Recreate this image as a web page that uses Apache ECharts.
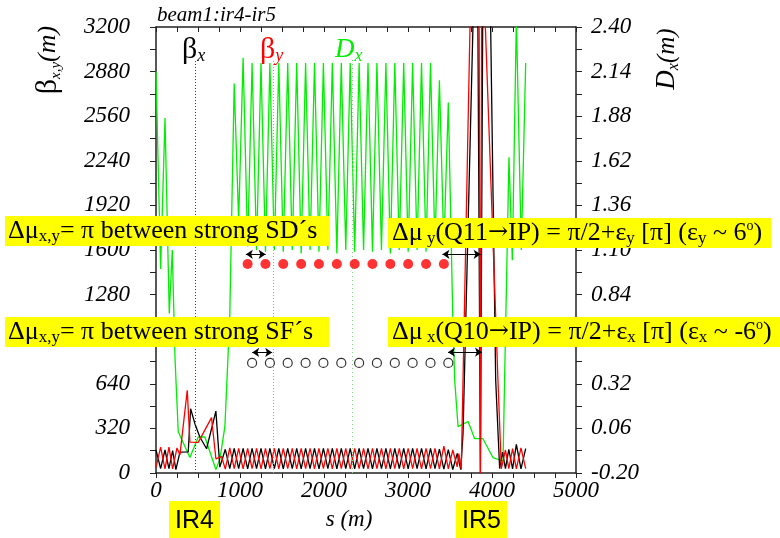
<!DOCTYPE html>
<html><head><meta charset="utf-8">
<script src="https://cdn.jsdelivr.net/npm/echarts@6/dist/echarts.min.js"></script>
<style>html,body{margin:0;padding:0;background:#fff}#c{width:780px;height:538px}</style>
</head><body><div id="c"></div>
<script>
// ---------- data ----------
// arc half-cell positions s (m)
const arcS = [825,878,931,984,1037,1091,1144,1197,1250,1303,1356,1409,1462,1515,1568,1622,1675,1728,1781,1834,1887,1940,1993,2046,2099,2153,2206,2259,2312,2365,2418,2471,2524,2577,2630,2684,2737,2790,2843,2896,2949,3002,3055,3108,3161,3215,3268,3321,3374,3427,3480,3533,3586];
const betaXArc = [170,31,176,31,177,30,177,31,177,30,177,31,177,30,177,31,177,30,177,31,177,30,177,31,177,30,177,31,177,30,177,31,177,30,177,31,177,30,177,31,177,30,177,31,177,30,176,31,172,28,168,25,140];
const betaYArc = [28,180,31,177,30,177,31,177,30,177,31,177,30,177,31,177,30,177,31,177,30,177,31,177,30,177,31,177,30,177,31,177,30,177,31,177,30,177,31,177,30,177,31,177,30,177,31,177,30,192,30,165,45];
// Dx on arc points k = 2 .. 51
const dxArc = [2.07,1.27,2.22,1.12,2.19,1.10,2.19,1.09,2.19,1.10,2.19,1.09,2.19,1.10,2.19,1.08,2.19,1.10,2.19,1.09,2.19,1.10,2.19,1.08,2.19,1.10,2.19,1.09,2.19,1.10,2.19,1.09,2.19,1.10,2.19,1.08,2.19,1.10,2.19,1.09,2.19,1.10,2.19,1.09,2.19,1.12,2.09,1.12,1.96,0.71];
// insertion regions [s, value]
const betaXIR4 = [[0,165],[55,32],[107,165],[154,32],[198,160],[237,25],[285,150],[384,152],[412,461],[463,354],[522,258],[602,174],[713,444],[760,42]];
const betaYIR4 = [[0,40],[55,185],[107,30],[154,185],[198,30],[250,180],[285,130],[372,593],[404,221],[503,220],[661,397],[713,102],[780,118]];
const betaXIR5 = [[3628,25],[3655,282],[3773,3200],[3800,3900],[3820,4500],[3862,0.5],[3900,4500],[3940,4400],[3984,3200],[4044,665],[4091,32],[4125,150],[4160,32],[4200,170],[4245,30],[4290,205],[4345,30],[4401,175]];
const betaYIR5 = [[3605,140],[3634,25],[3738,3200],[3760,3900],[3840,4600],[3862,0.5],[3882,4500],[3921,3200],[4071,665],[4111,30],[4160,165],[4200,32],[4245,175],[4290,30],[4345,180],[4401,32]];
const dxIR4 = [[0,2.14],[55,0.99],[107,1.87],[158,0.73],[194,1.10],[226,0.47],[265,0.04],[404,-0.11],[503,0.01],[582,0.01],[713,-0.18],[760,-0.12],[820,0.07],[878,0.71]];
const dxIR5 = [[3556,0.34],[3596,0.07],[3715,0.10],[3794,0.00],[3892,0.00],[4011,-0.11],[4131,-0.13],[4202,1.64],[4242,1.04],[4290,2.45],[4349,1.10],[4401,2.19]];
// sextupole markers
const sdS = [1091,1303,1515,1728,1940,2153,2365,2577,2790,3002,3215,3427];
const sfS = [1144,1356,1568,1781,1993,2206,2418,2630,2843,3055,3268,3480];
const sdLevel = 1500, sfLevel = 790;
// tick labels
const betaTicks = ['0','320','640','960','1280','1600','1920','2240','2560','2880','3200'];
const dxTicks = ['-0.20','0.06','0.32','0.58','0.84','1.10','1.36','1.62','1.88','2.14','2.40'];
const sTicks = ['0','1000','2000','3000','4000','5000'];

// ---------- build ----------
const pairs = (xs, ys) => ys.map((y, i) => [xs[i], y]);
const betaX = betaXIR4.concat(pairs(arcS, betaXArc), betaXIR5);
const betaY = betaYIR4.concat(pairs(arcS, betaYArc), betaYIR5);
const dx = dxIR4.concat(pairs(arcS.slice(2, 52), dxArc), dxIR5);

const serif = '"Liberation Serif","Times New Roman",serif';
const sans = '"Liberation Sans",Arial,sans-serif';
const axCol = '#222';
const axLine = {show:true, onZero:false, lineStyle:{color:axCol, width:1.5}};
const tickLab = {fontFamily:'Liberation Serif', fontStyle:'italic', fontSize:23, color:'#000'};

function boxText(x, y, text) {
  const rich = {
    m:{font:'26px '+serif, fill:'#000', lineHeight:28},
    a:{font:'24px "DejaVu Serif",serif', fill:'#000', lineHeight:28},
    s:{font:'17px '+serif, fill:'#000', lineHeight:16, verticalAlign:'bottom'},
    p:{font:'14px '+serif, fill:'#000', lineHeight:13, verticalAlign:'top'}
  };
  return {type:'text', x:x, y:y, z:101, silent:true,
    style:{text:text, rich:rich, align:'left', textAlign:'left', verticalAlign:'middle', textVerticalAlign:'middle'}};
}
function rect(x, y, w, h) {
  return {type:'rect', z:100, silent:true, shape:{x:x, y:y, width:w, height:h}, style:{fill:'#ffff00'}};
}

const chart = echarts.init(document.getElementById('c'));
chart.setOption({
  animation:false,
  grid:{left:156, right:204, top:27, bottom:65},
  xAxis:[
    {type:'value', min:0, max:5000, interval:1000, position:'bottom',
     axisLine:axLine,
     axisTick:{show:true, length:5, lineStyle:{color:axCol}},
     minorTick:{show:true, splitNumber:4, length:5, lineStyle:{color:axCol}},
     axisLabel:Object.assign({margin:6, formatter:(v)=>sTicks[Math.round(v/1000)]}, tickLab),
     splitLine:{show:false}, minorSplitLine:{show:false}},
    {type:'value', min:0, max:5000, interval:250, position:'top',
     axisLine:axLine,
     axisTick:{show:true, inside:true, length:5, lineStyle:{color:axCol}},
     axisLabel:{show:false}, splitLine:{show:false}}
  ],
  yAxis:[
    {type:'value', min:0, max:3200, interval:320, position:'left',
     axisLine:axLine,
     axisTick:{show:true, length:6, lineStyle:{color:axCol}},
     minorTick:{show:true, splitNumber:2, length:6, lineStyle:{color:axCol}},
     axisLabel:Object.assign({margin:26, formatter:(v)=>betaTicks[Math.round(v/320)]}, tickLab),
     splitLine:{show:false}},
    {type:'value', min:0, max:3200, interval:320, position:'right',
     axisLine:axLine,
     axisTick:{show:true, length:6, lineStyle:{color:axCol}},
     minorTick:{show:true, splitNumber:2, length:6, lineStyle:{color:axCol}},
     axisLabel:Object.assign({margin:15, formatter:(v)=>dxTicks[Math.round(v/320)]}, tickLab),
     splitLine:{show:false}},
    {type:'value', min:-0.2, max:2.4, show:false, splitLine:{show:false}}
  ],
  series:[
    {type:'line', name:'Dx', xAxisIndex:0, yAxisIndex:2, data:dx, showSymbol:false, clip:true,
     lineStyle:{color:'#00ee00', width:1.3}, z:2},
    {type:'line', name:'betax', xAxisIndex:0, yAxisIndex:0, data:betaX, showSymbol:false, clip:true,
     lineStyle:{color:'#000', width:1.3}, z:3,
     markLine:{silent:true, symbol:['none','none'], label:{show:false}, animation:false,
       data:[
         [{coord:[470,0], lineStyle:{color:'#444', type:[1,2], width:1}}, {coord:[470,2965]}],
         [{coord:[1395,0], lineStyle:{color:'#ff7777', type:[1,2], width:1}}, {coord:[1395,2965]}],
         [{coord:[2335,0], lineStyle:{color:'#77dd77', type:[1,3], width:1}}, {coord:[2335,2965]}]
       ]}},
    {type:'line', name:'betay', xAxisIndex:0, yAxisIndex:0, data:betaY, showSymbol:false, clip:true,
     lineStyle:{color:'#ff0000', width:1.3}, z:4},
    {type:'scatter', name:'SD', xAxisIndex:0, yAxisIndex:0, data:sdS.map(s=>[s, sdLevel]),
     symbol:'circle', symbolSize:10, itemStyle:{color:'#ff0000'}, z:5},
    {type:'scatter', name:'SF', xAxisIndex:0, yAxisIndex:0, data:sfS.map(s=>[s, sfLevel]),
     symbol:'circle', symbolSize:9, itemStyle:{color:'#fff', borderColor:'#000', borderWidth:1.2}, z:5,
     markLine:{silent:true, symbol:['arrow','arrow'], symbolSize:7, label:{show:false}, animation:false,
       lineStyle:{color:'#000', type:'solid', width:1},
       data:[
         [{coord:[1070,1569]}, {coord:[1305,1569]}],
         [{coord:[1145,865]}, {coord:[1383,865]}],
         [{coord:[3410,1569]}, {coord:[3865,1569]}],
         [{coord:[3476,867]}, {coord:[3881,867]}]
       ]}}
  ],
  graphic:[
    {type:'text', x:157, y:15, z:50, style:{text:'beam1:ir4-ir5', font:'italic 21px '+serif, fill:'#000', verticalAlign:'middle', textVerticalAlign:'middle'}},
    {type:'text', x:48, y:60, rotation:Math.PI/2, z:50,
     style:{text:'{b|β}{s|x,y}{m|(m)}', align:'center', textAlign:'center', verticalAlign:'middle', textVerticalAlign:'middle',
       rich:{b:{font:'30px '+serif, fill:'#000', lineHeight:32}, s:{font:'italic 15px '+serif, fill:'#000', lineHeight:15, verticalAlign:'bottom'}, m:{font:'italic 26px '+serif, fill:'#000', lineHeight:32}}}},
    {type:'text', x:667, y:59, rotation:Math.PI/2, z:50,
     style:{text:'{d|D}{s|x}{m|(m)}', align:'center', textAlign:'center', verticalAlign:'middle', textVerticalAlign:'middle',
       rich:{d:{font:'italic 27px '+serif, fill:'#000', lineHeight:30}, s:{font:'italic 16px '+serif, fill:'#000', lineHeight:15, verticalAlign:'bottom'}, m:{font:'italic 25px '+serif, fill:'#000', lineHeight:30}}}},
    {type:'text', x:182, y:50, z:50,
     style:{text:'{b|β}{s|x}', verticalAlign:'middle', textVerticalAlign:'middle',
       rich:{b:{font:'30px '+serif, fill:'#000', lineHeight:30}, s:{font:'italic 18px '+serif, fill:'#000', lineHeight:17, verticalAlign:'bottom'}}}},
    {type:'text', x:260, y:50, z:50,
     style:{text:'{b|β}{s|y}', verticalAlign:'middle', textVerticalAlign:'middle',
       rich:{b:{font:'30px '+serif, fill:'#ff0000', lineHeight:30}, s:{font:'italic 18px '+serif, fill:'#ff0000', lineHeight:17, verticalAlign:'bottom'}}}},
    {type:'text', x:335, y:50, z:50,
     style:{text:'{b|D}{s|x}', verticalAlign:'middle', textVerticalAlign:'middle',
       rich:{b:{font:'italic 27px '+serif, fill:'#00ee00', lineHeight:30}, s:{font:'italic 18px '+serif, fill:'#00ee00', lineHeight:17, verticalAlign:'bottom'}}}},
    {type:'text', x:349, y:520, z:50, style:{text:'s (m)', font:'italic 23px '+serif, fill:'#000', align:'center', textAlign:'center', verticalAlign:'middle', textVerticalAlign:'middle'}},
    rect(5, 216, 325, 30),
    boxText(8, 231, '{m|Δμ}{s|x,y}{m|= π between strong SD´s}'),
    rect(5, 317, 324, 30),
    boxText(8, 332, '{m|Δμ}{s|x,y}{m|= π between strong SF´s}'),
    rect(388, 218, 383, 30),
    boxText(392, 233, '{m|Δμ}{s| y}{m|(Q11}{a|→}{m|IP) = π/2+ε}{s|y}{m| [π] (ε}{s|y}{m| ~ 6}{p|o}{m|)}'),
    rect(388, 317, 392, 30),
    boxText(392, 332, '{m|Δμ}{s| x}{m|(Q10}{a|→}{m|IP) = π/2+ε}{s|x}{m| [π] (ε}{s|x}{m| ~ -6}{p|o}{m|)}'),
    rect(169, 501, 51, 37),
    {type:'text', x:194.5, y:521, z:101, style:{text:'IR4', font:'25px '+sans, fill:'#000', align:'center', textAlign:'center', verticalAlign:'middle', textVerticalAlign:'middle'}},
    rect(456, 501, 51, 37),
    {type:'text', x:481.5, y:521, z:101, style:{text:'IR5', font:'25px '+sans, fill:'#000', align:'center', textAlign:'center', verticalAlign:'middle', textVerticalAlign:'middle'}}
  ]
});
</script>
</body></html>
